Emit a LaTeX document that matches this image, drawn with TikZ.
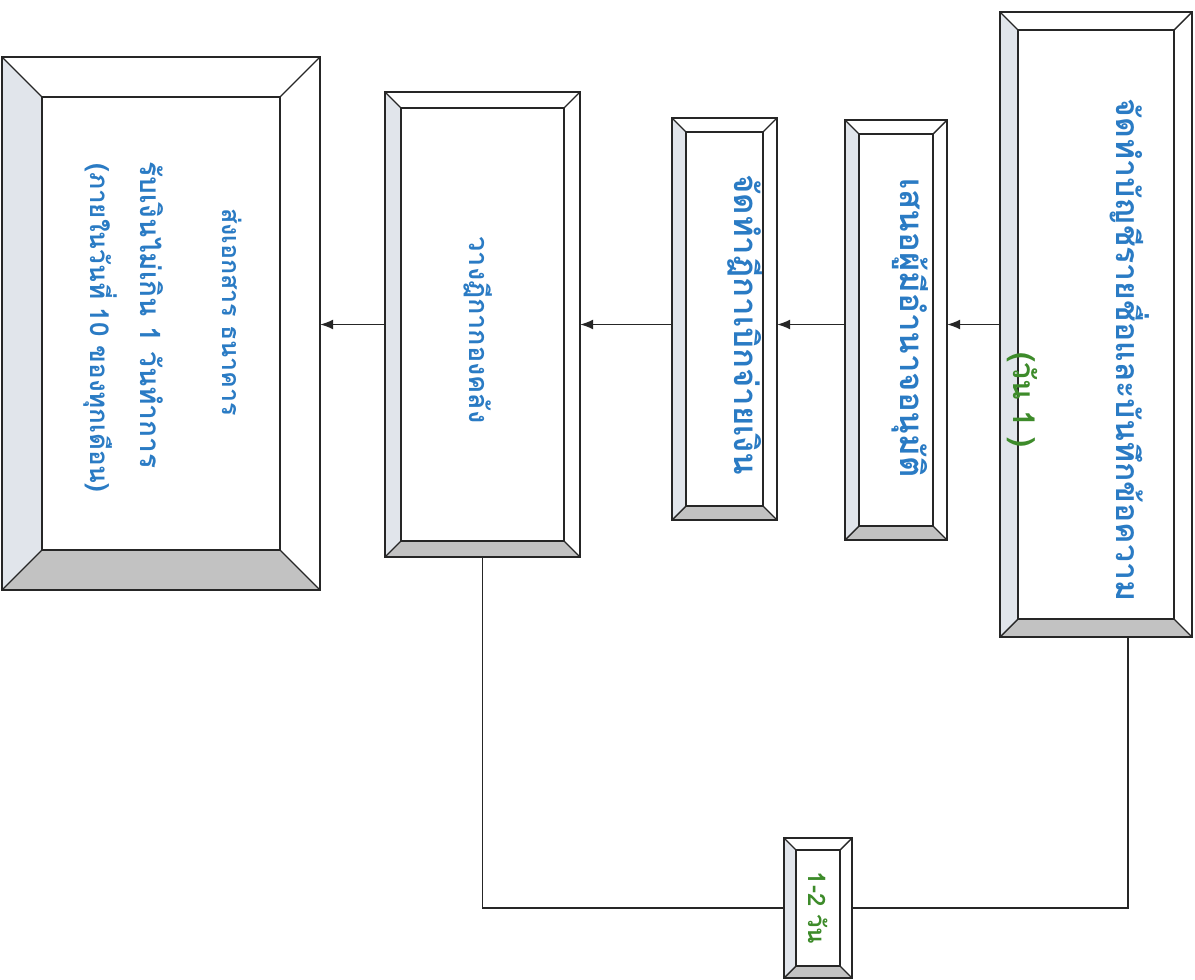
\documentclass[tikz,border=0pt]{standalone}
\usepackage{fontspec}
\newfontfamily\thaifont[Script=Thai]{Loma}
\usetikzlibrary{arrows.meta}

\definecolor{stepblue}{HTML}{2A7BC4}
\definecolor{stepgreen}{HTML}{3D8B2A}
\definecolor{bevelgray}{HTML}{C2C2C2}
\definecolor{bevellight}{HTML}{E1E5EB}

\newcommand{\thaisize}[1]{\thaifont\bfseries\fontsize{#1}{#1}\selectfont}

% name, x1, y1, x2, y2, bevel depth
\newcommand{\bevelbox}[6]{%
  \fill[white] (#2,#3) rectangle (#4,#5);
  \fill[bevellight] (#2,#3) -- (#2+#6,#3+#6) -- (#2+#6,#5-#6) -- (#2,#5) -- cycle;
  \fill[bevelgray] (#2,#5) -- (#2+#6,#5-#6) -- (#4-#6,#5-#6) -- (#4,#5) -- cycle;
  \draw[bevelline] (#2,#3) rectangle (#4,#5);
  \draw[bevelline] (#2+#6,#3+#6) rectangle (#4-#6,#5-#6);
  \draw[bevelline] (#2,#3) -- (#2+#6,#3+#6) (#4,#3) -- (#4-#6,#3+#6)
                   (#2,#5) -- (#2+#6,#5-#6) (#4,#5) -- (#4-#6,#5-#6);
  \node[inner sep=0pt, minimum width={(#4-#2)*1pt}, minimum height={(#5-#3)*1pt}]
    (#1) at ({(#2+#4)/2},{(#3+#5)/2}) {};
}

\tikzset{
  bevelline/.style={draw=black!85, line width=1.4pt},
  steptext/.style={text=stepblue, rotate=-90, inner sep=0pt},
  waittext/.style={text=stepgreen, rotate=-90, inner sep=0pt},
  flowarrow/.style={draw=black!85, line width=1.4pt, -{Latex[length=13pt,width=10pt]}},
  linkline/.style={draw=black!85, line width=1.2pt}
}

\begin{document}
\begin{tikzpicture}[x=1pt, y=-1pt]
\useasboundingbox (0,0) rectangle (1195,980);

\bevelbox{box1}{1000}{12}{1192}{637}{18}
\bevelbox{box2}{845}{120}{947}{540}{14}
\bevelbox{box3}{672}{118}{777}{520}{14}
\bevelbox{box4}{385}{92}{580}{557}{16}
\bevelbox{box5}{2}{57}{320}{590}{40}
\bevelbox{wait}{784}{838}{852}{978}{12}

\node[steptext, font=\thaisize{32}] (t1) at (1130,350) {จัดทำบัญชีรายชื่อและบันทึกข้อความ};
\node[waittext, font=\thaisize{30}] (t1b) at (1022,400) {(วัน 1 )};
\node[steptext, font=\thaisize{33}] (t2) at (910,328) {เสนอผู้มีอำนาจอนุมัติ};
\node[steptext, font=\thaisize{33}] (t3) at (745,325) {จัดทำฎีกาเบิกจ่ายเงิน};
\node[steptext, font=\thaisize{27}] (t4) at (478,330) {วางฎีกากองคลัง};
\node[steptext, font=\thaisize{25}] (t5a) at (232,312) {ส่งเอกสาร ธนาคาร};
\node[steptext, font=\thaisize{28}] (t5b) at (152,315) {รับเงินไม่เกิน 1 วันทำการ};
\node[steptext, font=\thaisize{26}] (t5c) at (100,328) {(ภายในวันที่ 10 ของทุกเดือน)};
\node[waittext, font=\thaisize{24}] (tw) at (818,908) {1-2 วัน};

% flow from right to left
\draw[flowarrow] (box1.west) -- (box1.west -| box2.east);
\draw[flowarrow] (box1.west -| box2.west) -- (box1.west -| box3.east);
\draw[flowarrow] (box1.west -| box3.west) -- (box1.west -| box4.east);
\draw[flowarrow] (box1.west -| box4.west) -- (box1.west -| box5.east);

% waiting time link
\coordinate (b1out) at ([xshift=32pt]box1.south);
\draw[linkline] (b1out) -- (b1out |- wait.east) -- (wait.east);
\draw[linkline] (wait.west) -- (wait.west -| box4.south) -- (box4.south);
\end{tikzpicture}
\end{document}
